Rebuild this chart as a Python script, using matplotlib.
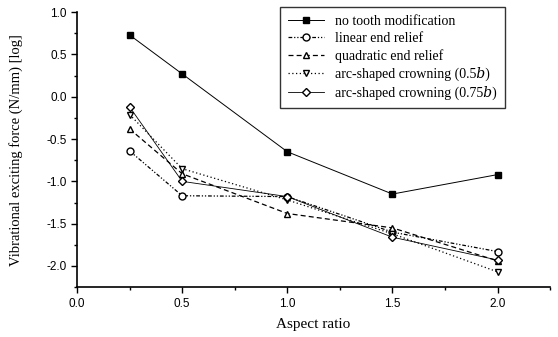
import matplotlib
matplotlib.use('Agg')
import matplotlib.pyplot as plt
from matplotlib.ticker import MultipleLocator

# aspect ratios and log exciting force per modification type
aspect = [0.25, 0.5, 1.0, 1.5, 2.0]
no_mod = [0.73, 0.27, -0.65, -1.15, -0.92]
linear_relief = [-0.64, -1.17, -1.18, -1.60, -1.83]
quadratic_relief = [-0.38, -0.91, -1.38, -1.55, -1.94]
crown_05 = [-0.21, -0.85, -1.22, -1.62, -2.07]
crown_075 = [-0.12, -1.00, -1.18, -1.66, -1.93]

labels = ['no tooth modification', 'linear end relief', 'quadratic end relief',
          'arc-shaped crowning (0.5\U0001D44F)', 'arc-shaped crowning (0.75\U0001D44F)']

fig = plt.figure(figsize=(5.58, 3.37), dpi=100)
ax = fig.add_axes([0.138, 0.148, 0.848, 0.816])

ms = 5
ax.plot(aspect, no_mod, '-', color='black', lw=0.7, marker='s', ms=ms,
        mfc='black', label=labels[0])
ax.plot(aspect, linear_relief, color='black', lw=0.9, ls=(0, (3, 1.5, 1, 1.5, 1, 1.5)),
        marker='o', ms=ms, mfc='white', label=labels[1])
ax.plot(aspect, quadratic_relief, color='black', lw=0.9, ls=(0, (4, 2.5)),
        marker='^', ms=ms, mfc='white', label=labels[2])
ax.plot(aspect, crown_05, color='black', lw=0.9, ls=(0, (1, 2)),
        marker='v', ms=ms, mfc='white', label=labels[3])
ax.plot(aspect, crown_075, '-', color='black', lw=0.6,
        marker='D', ms=4.5, mfc='white', label=labels[4])

ax.set_xlim(0, 2.25)
ax.set_ylim(-2.25, 1.0)
ax.xaxis.set_minor_locator(MultipleLocator(0.25))
ax.yaxis.set_minor_locator(MultipleLocator(0.25))
ax.tick_params(which='both', direction='out', width=1.0)
ax.tick_params(which='major', length=4)
ax.tick_params(which='minor', length=2.5)
xt = [0.0, 0.5, 1.0, 1.5, 2.0]
ax.set_xticks(xt)
ax.set_xticklabels(['%.1f' % v for v in xt])
yt = [-2.0, -1.5, -1.0, -0.5, 0.0, 0.5, 1.0]
ax.set_yticks(yt)
ax.set_yticklabels(['%.1f' % v for v in yt])
for lab in ax.get_xticklabels() + ax.get_yticklabels():
    lab.set_family('Liberation Sans')
    lab.set_fontsize(8.5)

ax.spines['top'].set_visible(False)
ax.spines['right'].set_visible(False)
ax.spines['left'].set_linewidth(1.2)
ax.spines['bottom'].set_linewidth(1.2)

ax.set_xlabel('Aspect ratio', family='Liberation Serif', fontsize=11, labelpad=6)
ax.set_ylabel('Vibrational exciting force (N/mm) [log]', family='Liberation Serif',
              fontsize=10.5, labelpad=17)

leg = ax.legend(loc='upper right', bbox_to_anchor=(0.92, 1.045),
                prop={'family': ['Liberation Serif', 'DejaVu Serif'], 'size': 10},
                frameon=True, fancybox=False, edgecolor='black',
                handlelength=2.6, labelspacing=0.3, borderpad=0.6)
leg.get_frame().set_linewidth(1.0)

fig.savefig('out.png', dpi=100)
